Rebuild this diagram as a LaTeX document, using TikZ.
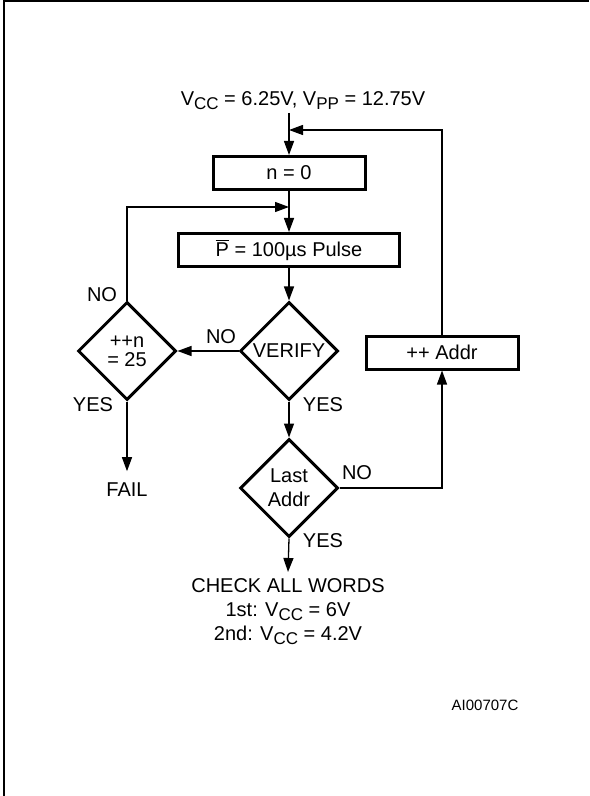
\documentclass[tikz,border=0pt]{standalone}
\usepackage{fontspec}
\setmainfont{Liberation Sans}
\usetikzlibrary{arrows.meta,shapes.geometric}
\def\lowsub#1{\raisebox{-2pt}{\fontsize{8.5}{8.5}\selectfont #1}}

\begin{document}
\begin{tikzpicture}[x=0.5pt,y=-0.5pt,
		font=\fontsize{10}{12}\selectfont,
		flow/.style={line width=0.65pt,-{Triangle[length=7pt,width=5pt]}},
		stepbox/.style={draw,line width=1.5pt,minimum height=16.5pt,inner sep=0pt},
		test/.style={draw,diamond,aspect=1,line width=1.5pt,minimum width=49pt,minimum height=49pt,inner sep=0pt,align=center},
		tag/.style={inner sep=0pt}]
		%%%%% START %%%%%
		\useasboundingbox (0,0) rectangle (589,796);
		\draw[line width=1.25pt] (4,796) -- (4,1) -- (589,1);
		
		\node[anchor=base] (supply) at (303,106) {V\lowsub{CC} = 6.25V, V\lowsub{PP} = 12.75V};
		\coordinate (start) at (289,113);
		\coordinate (entry) at (289,130);
		\coordinate (merge) at (289,207);
		
		\node[stepbox,minimum width=76pt] (init) at (289,173) {n = 0};
		\node[stepbox,minimum width=110.5pt] (pulse) at (289,250) {$\overline{\hbox{P}}$ = 100µs Pulse};
		\node[test] (verify) at (289,351) {VERIFY};
		\node[test,font=\fontsize{10}{9.5}\selectfont] (count) at (127,351) {++n\\= 25};
		\node[test] (last) at (289,488) {Last\\Addr};
		\node[stepbox,minimum width=76pt] (addr) at (442,352.5) {++ Addr};
		
		\node[inner sep=5.5pt] (fail) at (127,489.5) {FAIL};
		\node[anchor=north,inner sep=3.25pt,align=center] (check) at (288,572) {CHECK ALL WORDS\\1st: V\lowsub{CC} = 6V\\2nd: V\lowsub{CC} = 4.2V};
		\node[font=\fontsize{7.5}{9}\selectfont] (code) at (485,705) {AI00707C};
		
		\draw[flow] (start) -- (init.north);
		\draw[flow] (addr.north) |- (entry);
		\draw[flow] (init.south) -- (pulse.north);
		\draw[flow] (count.north) |- (merge);
		\draw[flow] (pulse.south) -- (verify.north);
		\draw[flow] (verify.west) -- (count.east);
		\draw[flow] (verify.south) -- (last.north);
		\draw[flow] (last.east) -| (addr.south);
		\draw[flow] (count.south) -- (fail.north);
		\draw[flow] (last.south) -- (check.north);
		
		\node[tag] (countno) at (102,295) {NO};
		\node[tag] (verifyno) at (221,337) {NO};
		\node[tag] (countyes) at (93,405) {YES};
		\node[tag] (verifyyes) at (323,405) {YES};
		\node[tag] (lastno) at (357,473) {NO};
		\node[tag] (lastyes) at (323,541) {YES};
		%%%%% END %%%%%
	\end{tikzpicture}
\end{document}
